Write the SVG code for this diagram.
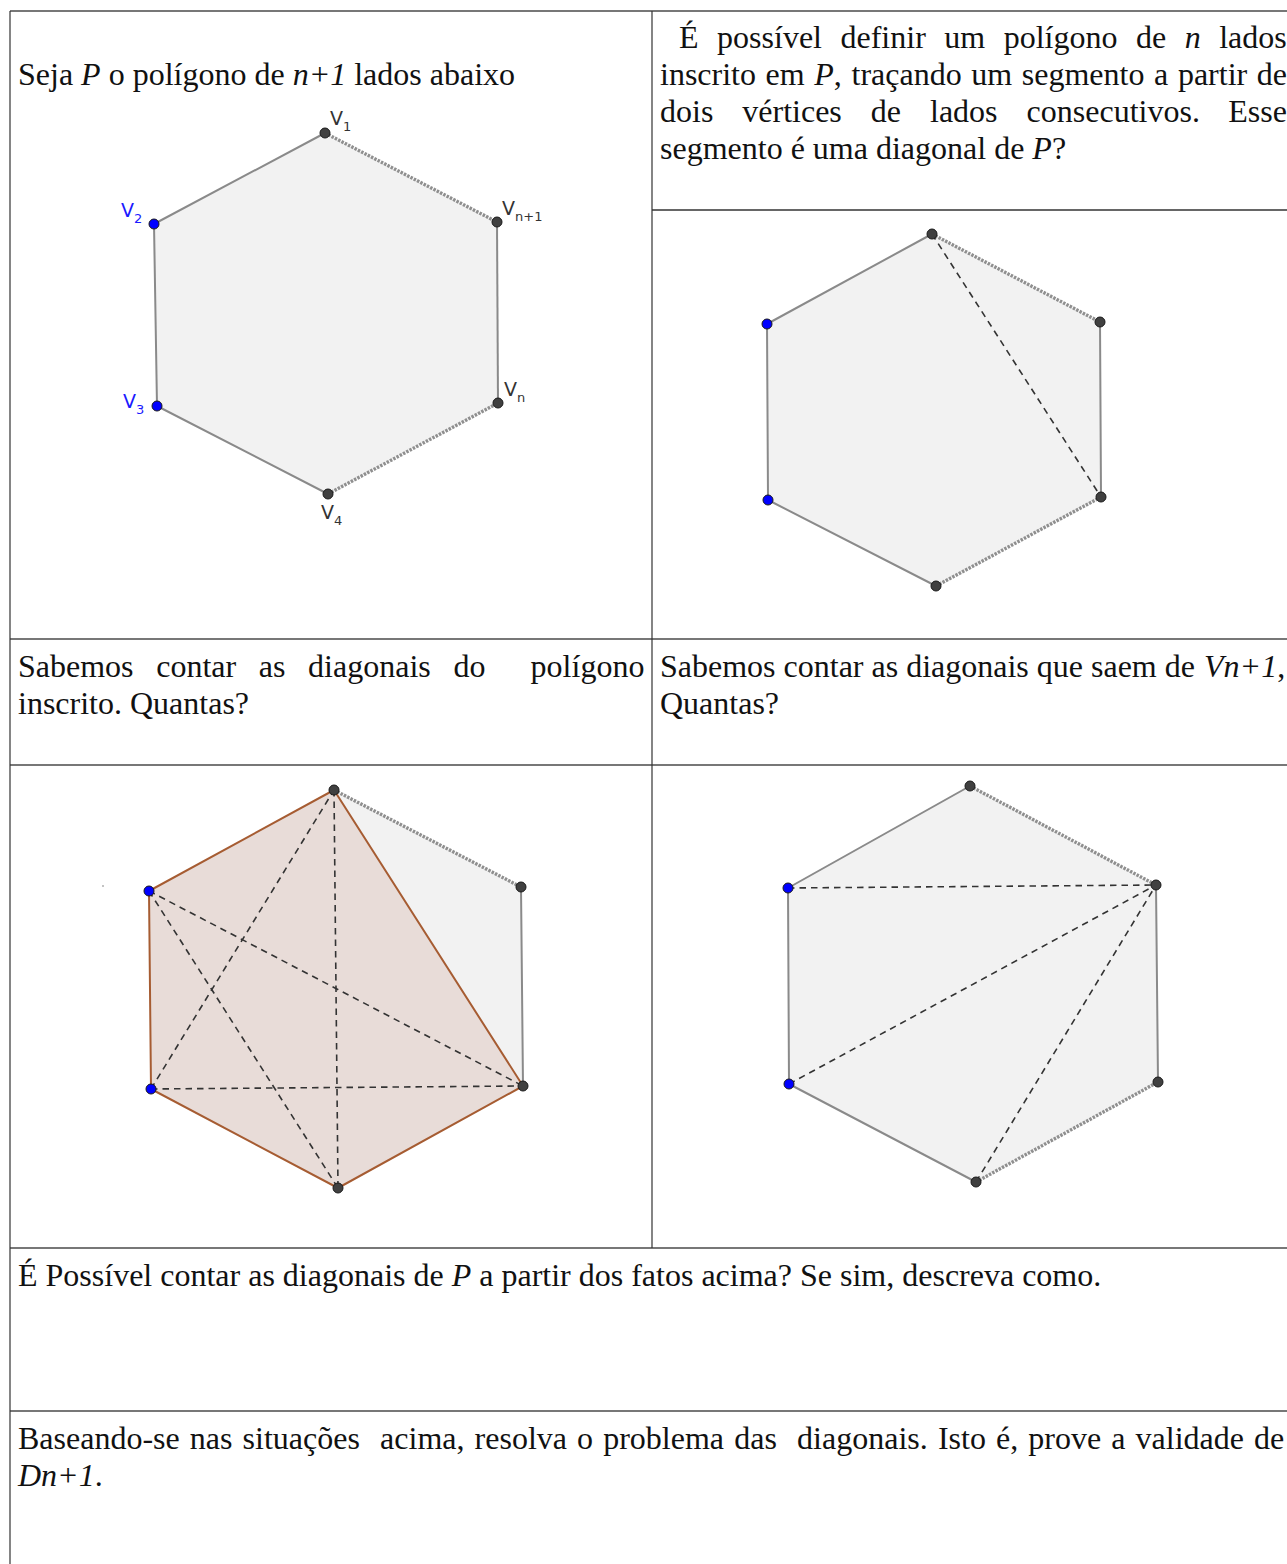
<svg xmlns="http://www.w3.org/2000/svg" width="1287" height="1564" viewBox="0 0 1287 1564">
<style>
.t{font-family:"Liberation Serif","Times New Roman",serif;font-size:32px;fill:#111}
.i{font-style:italic}
.lbl{font-family:"DejaVu Sans",Verdana,sans-serif;font-size:19px;fill:#333}
.sub{font-size:13px}
.blue{fill:#1a1aff}
.hex{fill:#f2f2f2;stroke:none}
.edge{stroke:#8a8a8a;stroke-width:2;fill:none;stroke-linecap:round}
.dot{stroke:#8f8f8f;stroke-width:3.4;fill:none;stroke-dasharray:2.5 1.2}
.dia{stroke:#333;stroke-width:1.6;fill:none;stroke-dasharray:6.5 5}
.pent{fill:#e8dcd8;stroke:#a65c32;stroke-width:2;stroke-linejoin:round}
.pt{fill:#404040;stroke:#1a1a1a;stroke-width:1}
.ptb{fill:#0000ff;stroke:#1a1a1a;stroke-width:1}
.gh{stroke:#777;stroke-width:1.8;fill:none}
.gv{stroke:#333;stroke-width:1.2;fill:none}
</style>
<rect x="0" y="0" width="1287" height="1564" fill="#fff"/>

<g id="table">
<line class="gh" x1="10" y1="11" x2="1287" y2="11"/>
<line class="gv" x1="652" y1="210" x2="1287" y2="210" style="stroke-width:1.5"/>
<line class="gh" x1="10" y1="639" x2="1287" y2="639"/>
<line class="gh" x1="10" y1="765" x2="1287" y2="765"/>
<line class="gh" x1="10" y1="1248" x2="1287" y2="1248"/>
<line class="gh" x1="10" y1="1411" x2="1287" y2="1411"/>
<line class="gv" x1="10" y1="11" x2="10" y2="1564"/>
<line class="gv" x1="652" y1="11" x2="652" y2="1248"/>
</g>

<g id="texts">
<text class="t" x="18" y="85" xml:space="preserve">Seja <tspan class="i">P</tspan> o polígono de <tspan class="i">n+1</tspan> lados abaixo</text>

<text class="t" y="48"><tspan x="679">É</tspan><tspan x="717.1">possível</tspan><tspan x="840.5">definir</tspan><tspan x="944.3">um</tspan><tspan x="1003.7">polígono</tspan><tspan x="1136">de</tspan><tspan x="1184.7" class="i">n</tspan><tspan x="1219.2">lados</tspan></text>
<text class="t" y="85"><tspan x="660">inscrito</tspan><tspan x="765.6">em</tspan><tspan x="814.3"><tspan class="i">P</tspan>,</tspan><tspan x="851.5">traçando</tspan><tspan x="971.3">um</tspan><tspan x="1021.8">segmento</tspan><tspan x="1154.1">a</tspan><tspan x="1177.9">partir</tspan><tspan x="1256.8">de</tspan></text>
<text class="t" y="122"><tspan x="660">dois</tspan><tspan x="742.3">vértices</tspan><tspan x="870.8">de</tspan><tspan x="930">lados</tspan><tspan x="1026.6">consecutivos.</tspan><tspan x="1228.3">Esse</tspan></text>
<text class="t" x="660" y="159">segmento é uma diagonal de <tspan class="i">P</tspan>?</text>

<text class="t" y="677"><tspan x="18">Sabemos</tspan><tspan x="156.2">contar</tspan><tspan x="258.8">as</tspan><tspan x="308.1">diagonais</tspan><tspan x="453.4">do</tspan><tspan x="530.6">polígono</tspan></text>
<text class="t" x="18" y="714">inscrito. Quantas?</text>

<text class="t" y="677"><tspan x="660">Sabemos contar as diagonais que saem de</tspan><tspan x="1204" class="i">Vn+1</tspan>,</text>
<text class="t" x="660" y="714">Quantas?</text>

<text class="t" x="18" y="1286">É Possível contar as diagonais de <tspan class="i">P</tspan> a partir dos fatos acima? Se sim, descreva como.</text>

<text class="t" y="1449"><tspan x="18">Baseando-se</tspan><tspan x="189.8">nas</tspan><tspan x="242.6">situações</tspan><tspan x="380.1">acima,</tspan><tspan x="474.6">resolva</tspan><tspan x="577.1">o</tspan><tspan x="603.2">problema</tspan><tspan x="734.2">das</tspan><tspan x="797.1">diagonais.</tspan><tspan x="937.9">Isto</tspan><tspan x="996">é,</tspan><tspan x="1028.3">prove</tspan><tspan x="1111.3">a</tspan><tspan x="1135.6">validade</tspan><tspan x="1254.1">de</tspan></text>
<text class="t" x="18" y="1486"><tspan class="i">Dn+1</tspan>.</text>
</g>

<g id="hexagon-P">
<polygon class="hex" points="325,133 497,222 498,403 328,494 157,406 154,224"/>
<line class="edge" x1="325" y1="133" x2="154" y2="224"/>
<line class="edge" x1="154" y1="224" x2="157" y2="406"/>
<line class="edge" x1="157" y1="406" x2="328" y2="494"/>
<line class="edge" x1="497" y1="222" x2="498" y2="403"/>
<line class="dot" x1="325" y1="133" x2="497" y2="222"/>
<line class="dot" x1="328" y1="494" x2="498" y2="403"/>
<circle class="pt" cx="325" cy="133" r="5"/>
<circle class="pt" cx="497" cy="222" r="5"/>
<circle class="pt" cx="498" cy="403" r="5"/>
<circle class="pt" cx="328" cy="494" r="5"/>
<circle class="ptb" cx="157" cy="406" r="5"/>
<circle class="ptb" cx="154" cy="224" r="5"/>
<text class="lbl" x="330" y="125">V<tspan class="sub" dy="6">1</tspan></text>
<text class="lbl" x="502" y="215">V<tspan class="sub" dy="6">n+1</tspan></text>
<text class="lbl" x="504" y="396">V<tspan class="sub" dy="6">n</tspan></text>
<text class="lbl" x="321" y="519">V<tspan class="sub" dy="6">4</tspan></text>
<text class="lbl blue" x="121" y="217">V<tspan class="sub" dy="6">2</tspan></text>
<text class="lbl blue" x="123" y="408">V<tspan class="sub" dy="6">3</tspan></text>
</g>

<g id="hexagon-inscribed">
<polygon class="hex" points="932,234 1100,322 1101,497 936,586 768,500 767,324"/>
<line class="edge" x1="932" y1="234" x2="767" y2="324"/>
<line class="edge" x1="767" y1="324" x2="768" y2="500"/>
<line class="edge" x1="768" y1="500" x2="936" y2="586"/>
<line class="edge" x1="1100" y1="322" x2="1101" y2="497"/>
<line class="dot" x1="932" y1="234" x2="1100" y2="322"/>
<line class="dot" x1="936" y1="586" x2="1101" y2="497"/>
<line class="dia" x1="932" y1="234" x2="1101" y2="497"/>
<circle class="pt" cx="932" cy="234" r="5"/>
<circle class="pt" cx="1100" cy="322" r="5"/>
<circle class="pt" cx="1101" cy="497" r="5"/>
<circle class="pt" cx="936" cy="586" r="5"/>
<circle class="ptb" cx="768" cy="500" r="5"/>
<circle class="ptb" cx="767" cy="324" r="5"/>
</g>

<g id="hexagon-pentagon">
<polygon class="hex" points="334,790 521,887 523,1086 338,1188 151,1089 149,891"/>
<line class="dot" x1="334" y1="790" x2="521" y2="887"/>
<line class="edge" x1="521" y1="887" x2="523" y2="1086"/>
<polygon class="pent" points="334,790 523,1086 338,1188 151,1089 149,891"/>
<line class="dia" x1="149" y1="891" x2="523" y2="1086"/>
<line class="dia" x1="149" y1="891" x2="338" y2="1188"/>
<line class="dia" x1="151" y1="1089" x2="334" y2="790"/>
<line class="dia" x1="151" y1="1089" x2="523" y2="1086"/>
<line class="dia" x1="334" y1="790" x2="338" y2="1188"/>
<circle cx="103" cy="886" r="0.8" fill="#777"/>
<circle class="pt" cx="334" cy="790" r="5"/>
<circle class="pt" cx="521" cy="887" r="5"/>
<circle class="pt" cx="523" cy="1086" r="5"/>
<circle class="pt" cx="338" cy="1188" r="5"/>
<circle class="ptb" cx="151" cy="1089" r="5"/>
<circle class="ptb" cx="149" cy="891" r="5"/>
</g>

<g id="hexagon-vn1">
<polygon class="hex" points="970,786 1156,885 1158,1082 976,1182 789,1084 788,888"/>
<line class="edge" x1="970" y1="786" x2="788" y2="888"/>
<line class="edge" x1="788" y1="888" x2="789" y2="1084"/>
<line class="edge" x1="789" y1="1084" x2="976" y2="1182"/>
<line class="edge" x1="1156" y1="885" x2="1158" y2="1082"/>
<line class="dot" x1="970" y1="786" x2="1156" y2="885"/>
<line class="dot" x1="976" y1="1182" x2="1158" y2="1082"/>
<line class="dia" x1="788" y1="888" x2="1156" y2="885"/>
<line class="dia" x1="789" y1="1084" x2="1156" y2="885"/>
<line class="dia" x1="976" y1="1182" x2="1156" y2="885"/>
<circle class="pt" cx="970" cy="786" r="5"/>
<circle class="pt" cx="1156" cy="885" r="5"/>
<circle class="pt" cx="1158" cy="1082" r="5"/>
<circle class="pt" cx="976" cy="1182" r="5"/>
<circle class="ptb" cx="789" cy="1084" r="5"/>
<circle class="ptb" cx="788" cy="888" r="5"/>
</g>
</svg>
